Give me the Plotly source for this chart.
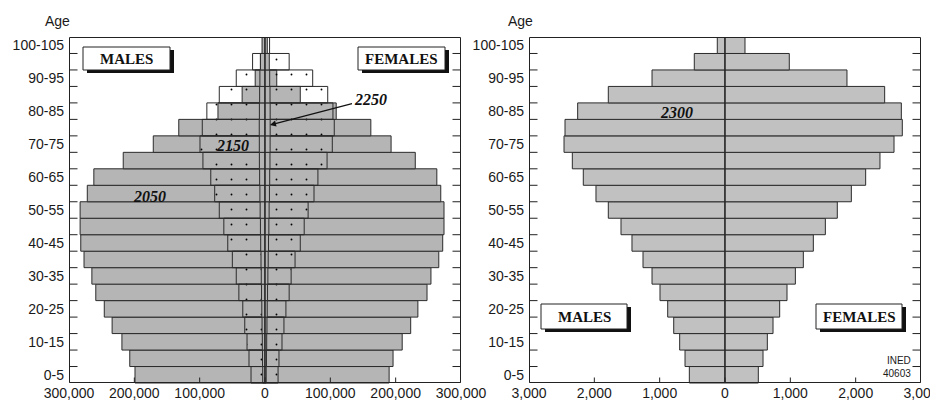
import plotly.graph_objects as go

# age groups, bottom to top
ages = ['0-5', '5-10', '10-15', '15-20', '20-25', '25-30', '30-35', '35-40', '40-45', '45-50',
        '50-55', '55-60', '60-65', '65-70', '70-75', '75-80', '80-85', '85-90', '90-95',
        '95-100', '100-105']

# left pyramid (persons)
males_2050 = [199000, 207000, 219000, 234000, 246000, 259000, 265000, 277000, 282000, 283000,
              283000, 272000, 262000, 217000, 171000, 132000, 72000, 35000, 15000, 7000, 2000]
females_2050 = [190000, 196000, 210000, 223000, 234000, 248000, 254000, 266000, 272000, 274000,
                274000, 269000, 263000, 230000, 193000, 162000, 109000, 54000, 18000, 4000, 1500]
males_2150 = [21400, 24500, 27500, 31000, 34000, 40000, 44000, 50000, 57000, 63000,
              70000, 77000, 83000, 95000, 99500, 96000, 89000, 70000, 44000, 19000, 3500]
females_2150 = [20000, 21400, 26000, 29000, 32000, 37000, 40000, 46000, 54000, 60000,
                66000, 75000, 81000, 95000, 103000, 106000, 104000, 96000, 73000, 37000, 7000]
males_2250 = [3500, 3800, 4100, 4500, 4900, 5300, 5700, 6100, 6600, 7000,
              7400, 7800, 8200, 8600, 8700, 8800, 8600, 8200, 7800, 7000, 4500]
females_2250 = [1800, 2200, 2600, 3000, 3400, 3900, 4400, 4900, 5400, 5900,
                6300, 6800, 7200, 7600, 7800, 7900, 7900, 7700, 7200, 6600, 3500]

# right pyramid
males_2300 = [546, 612, 694, 785, 877, 995, 1117, 1255, 1424, 1592, 1786, 1975, 2169, 2337,
              2464, 2449, 2255, 1786, 1117, 470, 118]
females_2300 = [510, 582, 648, 735, 837, 949, 1077, 1199, 1352, 1536, 1719, 1934, 2153, 2372,
                2587, 2714, 2699, 2444, 1867, 984, 306]

left_ticks = [-300000, -200000, -100000, 0, 100000, 200000, 300000]
left_ticktext = ['300,000', '200,000', '100,000', '0', '100,000', '200,000', '300,000']
right_ticks = [-3000, -2000, -1000, 0, 1000, 2000, 3000]
right_ticktext = ['3,000', '2,000', '1,000', '0', '1,000', '2,000', '3,000']

# page body has an 8px margin: the figure starts 8px in, screen coords shifted by OFF
OFF = 8
W, H = 938 - OFF, 407 - OFF
PAD = 10          # plot area reaches PAD px left of / below the drawn frame
FRAME_W = 392     # px width of each framed panel
FRAME_H = 346     # px height of the frame
ML, MR, MT, MB = 69 - PAD - OFF, 938 - 921, 37 - OFF, 407 - 383 - PAD
PW, PH = W - ML - MR, H - MT - MB


def px(x):
    return (x - OFF - ML) / PW


def py(y):
    return (H - MB - (y - OFF)) / PH


GRAY = '#b5b5b5'
GRAY2 = '#c1c1c1'
EDGE = '#2b2b2b'
FRAME = '#222'
SANS = 'Liberation Sans, Arial, sans-serif'
SERIF = 'Liberation Serif, Times New Roman, serif'

yidx = list(range(len(ages)))
yframe = [-0.5, len(ages) - 0.5]
dy = (yframe[1] - yframe[0]) / FRAME_H
yrange = [yframe[0] - PAD * dy, yframe[1]]
bounds = [i + 0.5 for i in range(len(ages) - 1)]

left_frame = [-300000, 300000]
right_frame = [-3000, 3000]
ldx = (left_frame[1] - left_frame[0]) / FRAME_W
rdx = (right_frame[1] - right_frame[0]) / FRAME_W
left_rng = [left_frame[0] - PAD * ldx, left_frame[1]]
right_rng = [right_frame[0] - PAD * rdx, right_frame[1]]
left_dom = [px(69 - PAD), px(461)]
right_dom = [px(529 - PAD), 1]

fig = go.Figure()


def add_pair(males, females, xa, ya, marker):
    for vals, sign in ((males, -1), (females, 1)):
        fig.add_trace(go.Bar(
            x=[sign * v for v in vals], y=yidx, orientation='h', width=1,
            marker=marker, xaxis=xa, yaxis=ya, showlegend=False, hoverinfo='skip'))


add_pair(males_2050, females_2050, 'x', 'y', dict(color=GRAY, line=dict(color=EDGE, width=1)))
add_pair(males_2150, females_2150, 'x', 'y',
         dict(color='rgba(0,0,0,0)', line=dict(color=EDGE, width=1),
              pattern=dict(shape='.', fgcolor='black', bgcolor='rgba(0,0,0,0)',
                           size=15, solidity=0.012, fillmode='replace')))
add_pair(males_2250, females_2250, 'x', 'y', dict(color=GRAY, line=dict(color=EDGE, width=1)))
add_pair(males_2300, females_2300, 'x2', 'y2', dict(color=GRAY2, line=dict(color=EDGE, width=1)))

# panel frame, boundary ticks, value ticks and zero line as line traces
for xa, ya, frm, dx, xticks in (('x', 'y', left_frame, ldx, left_ticks),
                                ('x2', 'y2', right_frame, rdx, right_ticks)):
    x0, x1 = frm[0] + 0.5 * dx, frm[1] - 0.5 * dx
    y0, y1 = yframe[0] + 0.5 * dy, yframe[1] - 0.5 * dy
    fx = [x0, x1, x1, x0, x0, None, 0, 0]
    fy = [y0, y0, y1, y1, y0, None, yframe[0], yframe[1]]
    for b in bounds:
        fx += [None, x0, x0 + 8 * dx, None, x1 - 8 * dx, x1]
        fy += [None, b, b, None, b, b]
    for t in xticks:
        tx = min(max(t, x0), x1)
        fx += [None, tx, tx]
        fy += [None, y0, y0 + 5 * dy]
    fig.add_trace(go.Scatter(x=fx, y=fy, mode='lines', xaxis=xa, yaxis=ya,
                             line=dict(color=FRAME, width=1), connectgaps=False,
                             cliponaxis=False, showlegend=False, hoverinfo='skip'))

font_ticks = dict(family=SANS, size=14, color='#1a1a1a')
yaxis_common = dict(
    range=yrange, tickvals=yidx[::2], ticktext=ages[::2], ticks='',
    showline=False, showgrid=False, zeroline=False, automargin=False,
    ticklabelstandoff=-(PAD - 4), tickfont=font_ticks)
xaxis_common = dict(
    showline=False, showgrid=False, zeroline=False, ticks='', automargin=False,
    ticklabelstandoff=-PAD, ticklabeloverflow='allow', tickfont=font_ticks)

fig.update_layout(
    width=W, height=H, margin=dict(l=ML, r=MR, t=MT, b=MB, autoexpand=False),
    paper_bgcolor='white', plot_bgcolor='white',
    barmode='overlay', bargap=0, dragmode=False,
    xaxis=dict(domain=left_dom, range=left_rng, tickvals=left_ticks,
               ticktext=left_ticktext, anchor='y', fixedrange=True, **xaxis_common),
    yaxis=dict(domain=[0, 1], anchor='x', fixedrange=True, **yaxis_common),
    xaxis2=dict(domain=right_dom, range=right_rng, tickvals=right_ticks,
                ticktext=right_ticktext, anchor='y2', fixedrange=True, **xaxis_common),
    yaxis2=dict(domain=[0, 1], anchor='x2', fixedrange=True, **yaxis_common),
)

shapes = []
annotations = []
# boxed labels with drop shadow
boxes = [('MALES', 83, 47, 170, 70), ('FEMALES', 358, 47, 445, 70),
         ('MALES', 541, 304, 627, 329), ('FEMALES', 816, 304, 902, 329)]
for txt, x0, y0, x1, y1 in boxes:
    shapes.append(dict(type='rect', xref='paper', yref='paper', x0=px(x0 + 4), x1=px(x1 + 4),
                       y0=py(y1 + 3), y1=py(y0 + 3), fillcolor='#111', line=dict(width=0),
                       layer='above'))
    shapes.append(dict(type='rect', xref='paper', yref='paper', x0=px(x0), x1=px(x1),
                       y0=py(y1), y1=py(y0), fillcolor='white',
                       line=dict(color=FRAME, width=1), layer='above'))
    annotations.append(dict(text='<b>%s</b>' % txt, xref='paper', yref='paper',
                            x=px((x0 + x1) / 2), y=py((y0 + y1) / 2), showarrow=False,
                            xanchor='center', yanchor='middle',
                            font=dict(family=SERIF, size=15, color='#111')))

# year labels
for txt, cx, cy in (('2050', 149, 196), ('2150', 232, 145), ('2300', 676, 113)):
    annotations.append(dict(text='<b><i>%s</i></b>' % txt, xref='paper', yref='paper',
                            x=px(cx), y=py(cy), showarrow=False,
                            xanchor='center', yanchor='middle',
                            font=dict(family=SERIF, size=16, color='#111')))
annotations.append(dict(text='<b><i>2250</i></b>', xref='paper', yref='paper',
                        x=px(270), y=py(125), ax=100, ay=-26, showarrow=True,
                        arrowhead=2, arrowsize=1, arrowwidth=1.2, arrowcolor='#111',
                        font=dict(family=SERIF, size=16, color='#111')))

for cx in (57, 520):
    annotations.append(dict(text='Age', xref='paper', yref='paper', x=px(cx), y=py(21),
                            xanchor='center', yanchor='middle', showarrow=False,
                            font=dict(family=SANS, size=14, color='#1a1a1a')))

annotations.append(dict(text='INED<br>40603', xref='paper', yref='paper', x=px(913), y=py(381),
                        xanchor='right', yanchor='bottom', align='right', showarrow=False,
                        font=dict(family=SANS, size=10, color='#1a1a1a')))

fig.update_layout(shapes=shapes, annotations=annotations)

fig.write_html("out.html", config={'staticPlot': True})
